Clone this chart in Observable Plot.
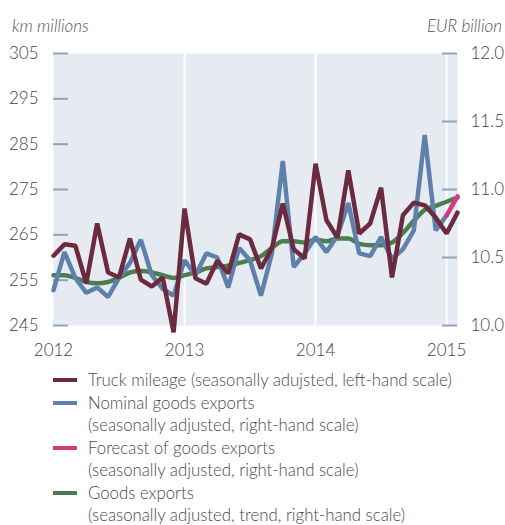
<!DOCTYPE html>
<html><head><meta charset="utf-8">
<script src="https://cdn.jsdelivr.net/npm/d3@7"></script>
<script src="https://cdn.jsdelivr.net/npm/@observablehq/plot@0.6"></script>
<style>
body{margin:0;background:#fff;font-family:Lato,"Open Sans",sans-serif;}
#wrap{position:relative;width:505px;height:525px;overflow:hidden;}
.unit{position:absolute;top:16px;font-style:italic;font-size:17px;color:#555;font-weight:300;line-height:20px;}
#legend{position:absolute;left:53px;top:369px;font-size:16.8px;font-weight:300;color:#4a4a4a;line-height:22.5px;}
.row{position:relative;padding-left:35px;white-space:nowrap;}
.sw{position:absolute;left:0;top:9px;width:24px;height:4px;}
</style></head>
<body><div id="wrap">
<div class="unit" style="left:12px">km millions</div>
<div class="unit" style="right:3px">EUR billion</div>
<div id="chart"></div>
<div id="legend"></div>
</div>
<script>
// monthly observations Jan 2012 .. Feb 2015
const startYear = 2012;
const truckMileage = [260.4,262.9,262.6,254.3,267.5,256.7,255.6,264.2,255.1,253.6,255.6,243.5,
  270.8,255.4,254.2,259.3,256.5,265.1,264.0,257.6,262.0,271.9,261.8,259.8,
  280.7,268.2,264.4,279.2,265.3,267.5,275.4,255.6,269.3,272.1,271.5,268.8,
  265.3,269.9];
const nominalExports = [10.26,10.54,10.35,10.24,10.28,10.21,10.35,10.46,10.63,10.37,10.27,10.22,
  10.48,10.37,10.53,10.50,10.28,10.57,10.48,10.22,10.53,11.21,10.43,10.53,
  10.65,10.54,10.66,10.90,10.53,10.51,10.65,10.49,10.56,10.70,11.40,10.70,
  10.81];
const forecastExports = [null,null,null,null,null,null,null,null,null,null,null,null,
  null,null,null,null,null,null,null,null,null,null,null,null,
  null,null,null,null,null,null,null,null,null,null,null,null,
  10.81,10.95];
const trendExports = [10.37,10.37,10.35,10.32,10.31,10.32,10.35,10.39,10.40,10.39,10.37,10.35,
  10.37,10.39,10.42,10.43,10.44,10.46,10.48,10.51,10.57,10.62,10.62,10.61,
  10.63,10.62,10.64,10.64,10.60,10.59,10.59,10.61,10.68,10.77,10.85,10.88,
  10.91,10.94];
const yearTicks = [2012, 2013, 2014, 2015];
const leftTicks = [245, 255, 265, 275, 285, 295, 305];
const rightTicks = [10.0, 10.5, 11.0, 11.5, 12.0];
const seriesNames = [
  "Truck mileage (seasonally adujsted, left-hand scale)",
  "Nominal goods exports<br>(seasonally adjusted, right-hand scale)",
  "Forecast of goods exports<br>(seasonally adjusted, right-hand scale)",
  "Goods exports<br>(seasonally adjusted, trend, right-hand scale)"
];
const colors = ["#6b2a3d", "#5f80ab", "#d6397f", "#4c7d4f"];

// right scale (EUR bn) expressed on the left scale (km millions)
const toLeft = v => 245 + (v - 10) * 30;
const fromLeft = v => (v - 245) / 30 + 10;
const series = (arr) => arr.map((v, i) => ({x: startYear + i / 12, v})).filter(d => d.v != null);

const W = 505, H = 362, mL = 53, mR = 48, mT = 53, mB = H - 325;
const frameW = W - mL - mR;
const tickLen = 15;

const chart = Plot.plot({
  width: W, height: H,
  marginLeft: mL, marginRight: mR, marginTop: mT, marginBottom: mB,
  style: {fontFamily: "Lato, 'Open Sans', sans-serif", fontSize: "17px", color: "#444", fontWeight: 300, background: "transparent"},
  x: {type: "linear", domain: [2012, 2015 + 1/12], axis: null},
  y: {domain: [245, 305], axis: null},
  marks: [
    Plot.frame({fill: "#e6ebf2", stroke: null}),
    Plot.ruleX(yearTicks.slice(1), {stroke: "#ffffff", strokeWidth: 2}),
    Plot.tickY(leftTicks, {y: d => d, stroke: "#8ea3c3", strokeWidth: 2, insetRight: frameW - tickLen}),
    Plot.tickY(rightTicks, {y: d => toLeft(d), stroke: "#8ea3c3", strokeWidth: 2, insetLeft: frameW - tickLen}),
    Plot.axisY(leftTicks, {anchor: "left", tickSize: 0, tickPadding: 15, label: null, tickFormat: d => String(d)}),
    Plot.axisY(rightTicks.map(toLeft), {anchor: "right", tickSize: 0, tickPadding: 13, label: null, tickFormat: d => fromLeft(d).toFixed(1)}),
    Plot.axisX(yearTicks, {anchor: "bottom", tickSize: 0, tickPadding: 18, label: null, tickFormat: d => String(d)}),
    Plot.line(series(trendExports), {x: "x", y: d => toLeft(d.v), stroke: colors[3], strokeWidth: 4.5, curve: "monotone-x"}),
    Plot.line(series(nominalExports), {x: "x", y: d => toLeft(d.v), stroke: colors[1], strokeWidth: 4.5, strokeLinejoin: "miter"}),
    Plot.line(series(forecastExports), {x: "x", y: d => toLeft(d.v), stroke: colors[2], strokeWidth: 4.5}),
    Plot.line(series(truckMileage), {x: "x", y: "v", stroke: colors[0], strokeWidth: 4.5, strokeLinejoin: "miter"})
  ]
});
document.getElementById("chart").appendChild(chart);

const legend = document.getElementById("legend");
seriesNames.forEach((name, i) => {
  const row = document.createElement("div");
  row.className = "row";
  row.innerHTML = `<span class="sw" style="background:${colors[i]}"></span>${name}`;
  legend.appendChild(row);
});
</script>
</body></html>
